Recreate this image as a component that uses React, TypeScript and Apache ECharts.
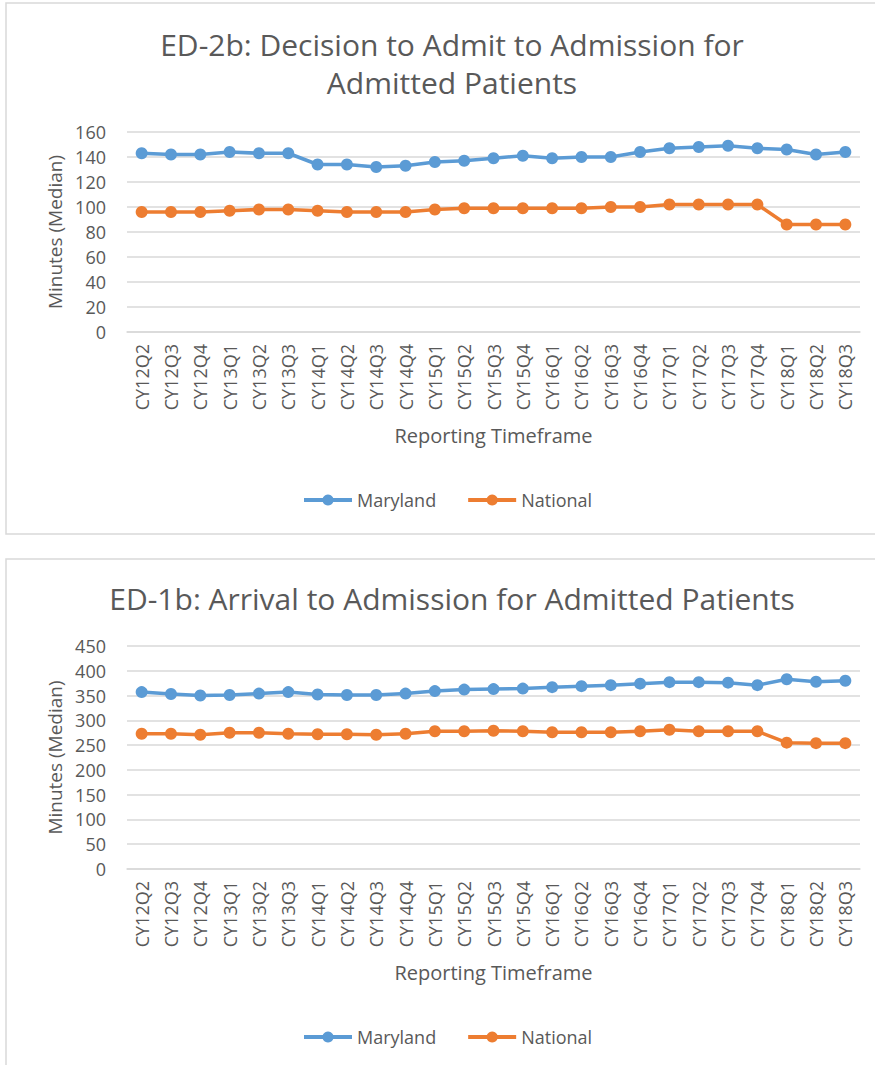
import React, { useEffect, useRef } from "react";
import * as echarts from "echarts";

const categories = [
  "CY12Q2", "CY12Q3", "CY12Q4", "CY13Q1", "CY13Q2", "CY13Q3",
  "CY14Q1", "CY14Q2", "CY14Q3", "CY14Q4",
  "CY15Q1", "CY15Q2", "CY15Q3", "CY15Q4",
  "CY16Q1", "CY16Q2", "CY16Q3", "CY16Q4",
  "CY17Q1", "CY17Q2", "CY17Q3", "CY17Q4",
  "CY18Q1", "CY18Q2", "CY18Q3",
];

const marylandED2b = [143, 142, 142, 144, 143, 143, 134, 134, 132, 133, 136, 137, 139, 141, 139, 140, 140, 144, 147, 148, 149, 147, 146, 142, 144];
const nationalED2b = [96, 96, 96, 97, 98, 98, 97, 96, 96, 96, 98, 99, 99, 99, 99, 99, 100, 100, 102, 102, 102, 102, 86, 86, 86];

const marylandED1b = [357, 353, 350, 351, 354, 357, 352, 351, 351, 354, 359, 362, 363, 364, 367, 369, 371, 374, 377, 377, 376, 371, 383, 378, 380];
const nationalED1b = [273, 273, 271, 275, 275, 273, 272, 272, 271, 273, 278, 278, 279, 278, 276, 276, 276, 278, 281, 278, 278, 278, 255, 254, 254];

const titleTop = "ED-2b: Decision to Admit to Admission for\nAdmitted Patients";
const titleBottom = "ED-1b: Arrival to Admission for Admitted Patients";
const seriesNames = ["Maryland", "National"];
const yAxisName = "Minutes (Median)";
const xAxisName = "Reporting Timeframe";

const FONT = "Open Sans";
const TEXT = "#595959";
const GRID = "#d9d9d9";
const BLUE = "#5B9BD5";
const ORANGE = "#ED7D31";

export default function App() {
  const ref = useRef<HTMLDivElement>(null);

  useEffect(() => {
    if (!ref.current) return;
    const chart = echarts.init(ref.current, null, { renderer: "svg" });

    const makeX = (gridIndex: number) => ({
      type: "category",
      gridIndex,
      data: categories,
      boundaryGap: true,
      axisLine: { show: true, lineStyle: { color: GRID, width: 1.5 } },
      axisTick: { show: false },
      axisLabel: {
        rotate: 90,
        margin: 12,
        color: TEXT,
        fontFamily: FONT,
        fontSize: 18,
        interval: 0,
      },
      name: xAxisName,
      nameLocation: "middle",
      nameGap: 93,
      nameTextStyle: { color: TEXT, fontFamily: FONT, fontSize: 20 },
    });

    const makeY = (gridIndex: number, max: number, interval: number) => ({
      type: "value",
      gridIndex,
      min: 0,
      max,
      interval,
      axisLine: { show: false },
      axisTick: { show: false },
      splitLine: { lineStyle: { color: GRID, width: 1.5 } },
      axisLabel: {
        margin: 21,
        color: TEXT,
        fontFamily: FONT,
        fontSize: 18,
      },
      name: yAxisName,
      nameLocation: "middle",
      nameRotate: 90,
      nameGap: 58,
      nameTextStyle: { color: TEXT, fontFamily: FONT, fontSize: 19 },
    });

    const makeSeries = (name: string, data: number[], color: string, idx: number) => ({
      type: "line",
      name,
      xAxisIndex: idx,
      yAxisIndex: idx,
      data,
      symbol: "circle",
      symbolSize: 12,
      color,
      lineStyle: { color, width: 3.5 },
      itemStyle: { color },
    });

    const legendCommon = {
      data: seriesNames,
      left: 302,
      padding: 0,
      itemWidth: 48,
      itemHeight: 14,
      itemGap: 30,
      lineStyle: { width: 4 },
      textStyle: { color: TEXT, fontFamily: FONT, fontSize: 18 },
    };

    const titleStyle = {
      color: TEXT,
      fontFamily: FONT,
      fontSize: 30,
      fontWeight: "normal",
      lineHeight: 38,
      align: "center",
    };

    chart.setOption({
      animation: false,
      backgroundColor: "#ffffff",
      graphic: [
        {
          type: "rect",
          shape: { x: 6, y: 3, width: 880, height: 531 },
          style: { fill: "none", stroke: GRID, lineWidth: 1.5 },
          z: -1,
        },
        {
          type: "rect",
          shape: { x: 6, y: 559, width: 880, height: 520 },
          style: { fill: "none", stroke: GRID, lineWidth: 1.5 },
          z: -1,
        },
      ],
      title: [
        {
          text: titleTop,
          left: 447,
          top: 20,
          textAlign: "center",
          textStyle: titleStyle,
        },
        {
          text: titleBottom,
          left: 447,
          top: 574,
          textAlign: "center",
          textStyle: titleStyle,
        },
      ],
      legend: [
        { ...legendCommon, top: 491 },
        { ...legendCommon, top: 1028 },
      ],
      grid: [
        { left: 127, right: 15, top: 132, height: 200 },
        { left: 127, right: 15, top: 646, height: 223 },
      ],
      xAxis: [makeX(0), makeX(1)],
      yAxis: [makeY(0, 160, 20), makeY(1, 450, 50)],
      series: [
        makeSeries(seriesNames[0], marylandED2b, BLUE, 0),
        makeSeries(seriesNames[1], nationalED2b, ORANGE, 0),
        makeSeries(seriesNames[0], marylandED1b, BLUE, 1),
        makeSeries(seriesNames[1], nationalED1b, ORANGE, 1),
      ],
    });

    return () => chart.dispose();
  }, []);

  return (
    <div
      ref={ref}
      style={{ position: "absolute", left: 0, top: 0, width: 875, height: 1065 }}
    />
  );
}
